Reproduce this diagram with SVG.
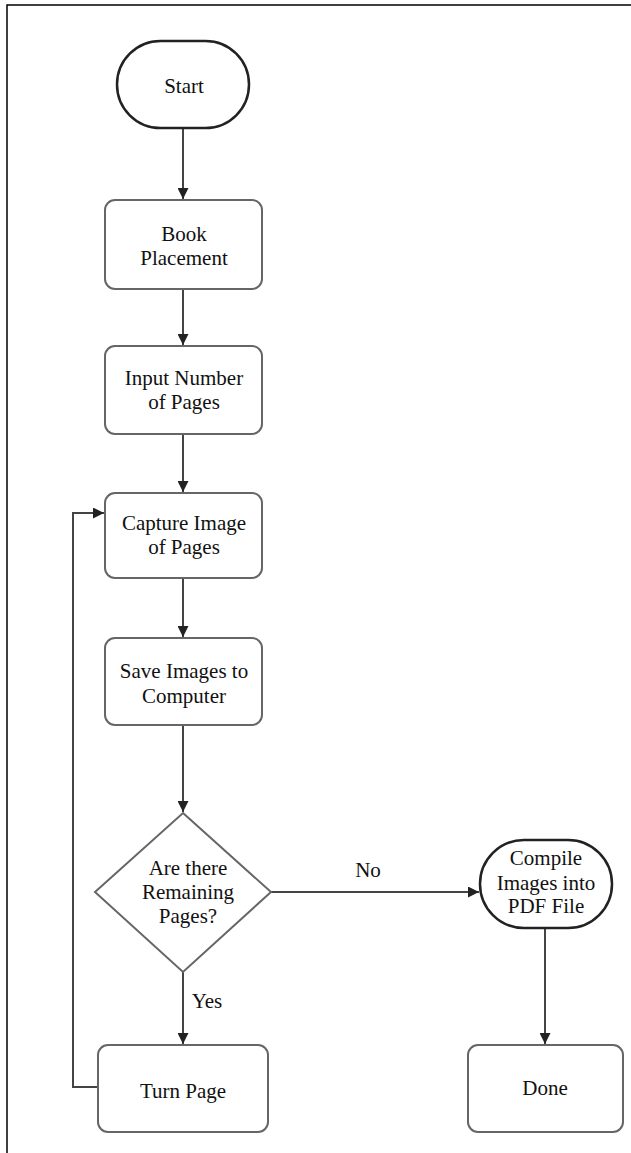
<svg xmlns="http://www.w3.org/2000/svg" width="631" height="1153" viewBox="0 0 631 1153">
<style>
text{font-family:"Liberation Serif","Times New Roman",serif;font-size:21px;fill:#111;text-anchor:middle}
.box{fill:#fff;stroke:#666;stroke-width:2}
.term{fill:#fff;stroke:#222;stroke-width:2.5}
.con{fill:none;stroke:#444;stroke-width:2}
</style>
<defs>
<marker id="ah" viewBox="0 0 10 10" refX="10" refY="5" markerWidth="11" markerHeight="11" orient="auto" markerUnits="userSpaceOnUse">
<path d="M0,0 L10,5 L0,10 z" fill="#222"/>
</marker>
</defs>
<rect width="631" height="1153" fill="#fff"/>
<path d="M7,1153 V5 H631" fill="none" stroke="#000" stroke-width="1.5"/>
<g id="connectors">
<path class="con" d="M183,128 V199" marker-end="url(#ah)"/>
<path class="con" d="M183,289 V345" marker-end="url(#ah)"/>
<path class="con" d="M183,434 V492" marker-end="url(#ah)"/>
<path class="con" d="M183,578 V637" marker-end="url(#ah)"/>
<path class="con" d="M183,725 V812" marker-end="url(#ah)"/>
<path class="con" d="M183,972 V1044" marker-end="url(#ah)"/>
<path class="con" d="M98,1087 H73 V513 H104" marker-end="url(#ah)"/>
<path class="con" d="M271,892 H479" marker-end="url(#ah)"/>
<path class="con" d="M545,928 V1044" marker-end="url(#ah)"/>
<text x="368" y="877">No</text>
<text x="207" y="1008">Yes</text>
</g>
<g id="start">
<rect class="term" x="117" y="41" width="132" height="87" rx="43.5"/>
<text x="184" y="93">Start</text>
</g>
<g id="book">
<rect class="box" x="105" y="200" width="157" height="89" rx="10"/>
<text x="184" y="241">Book</text>
<text x="184" y="265">Placement</text>
</g>
<g id="input">
<rect class="box" x="105" y="346" width="157" height="88" rx="10"/>
<text x="184" y="385">Input Number</text>
<text x="184" y="409">of Pages</text>
</g>
<g id="capture">
<rect class="box" x="105" y="493" width="157" height="85" rx="10"/>
<text x="184" y="530">Capture Image</text>
<text x="184" y="554">of Pages</text>
</g>
<g id="save">
<rect class="box" x="105" y="638" width="157" height="87" rx="10"/>
<text x="184" y="678">Save Images to</text>
<text x="184" y="703">Computer</text>
</g>
<g id="decision">
<polygon class="box" points="183,813 271,892 183,972 95,892"/>
<text x="188" y="875">Are there</text>
<text x="188" y="899">Remaining</text>
<text x="188" y="923">Pages?</text>
</g>
<g id="turn">
<rect class="box" x="98" y="1045" width="170" height="87" rx="10"/>
<text x="183" y="1098">Turn Page</text>
</g>
<g id="compile">
<rect class="term" x="480" y="840" width="132" height="88" rx="44"/>
<text x="546" y="865">Compile</text>
<text x="546" y="890">Images into</text>
<text x="546" y="913">PDF File</text>
</g>
<g id="done">
<rect class="box" x="468" y="1045" width="155" height="87" rx="10"/>
<text x="545" y="1095">Done</text>
</g>
</svg>
